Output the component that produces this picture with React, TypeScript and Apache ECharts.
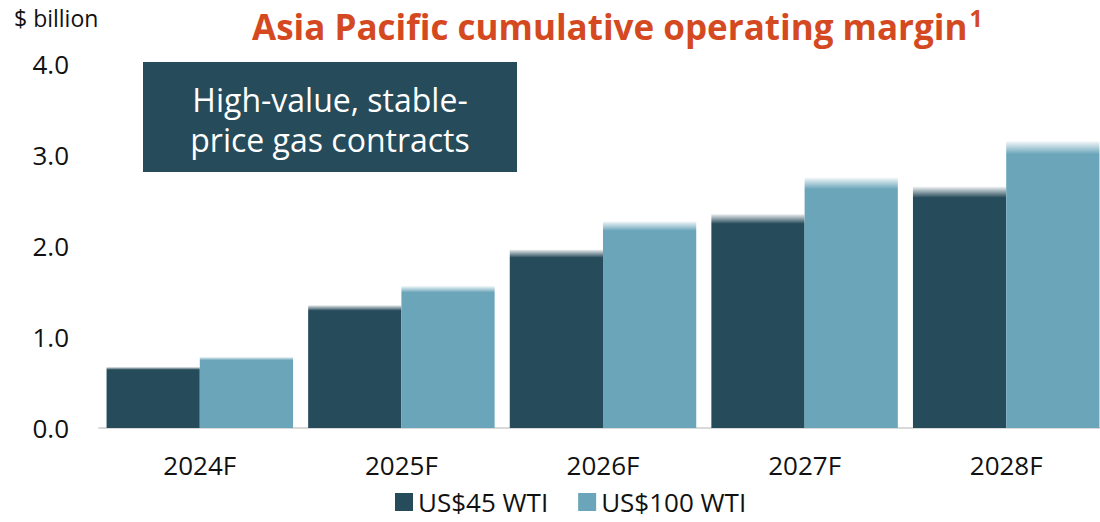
import React, { useEffect, useRef } from "react";
import * as echarts from "echarts";

const categories = ["2024F", "2025F", "2026F", "2027F", "2028F"];
const wti45 = [0.67, 1.35, 1.96, 2.35, 2.65];
const wti100 = [0.78, 1.56, 2.27, 2.75, 3.15];
const seriesNames = ["US$45 WTI", "US$100 WTI"];
const titleText = "Asia Pacific cumulative operating margin";
const unitText = "$ billion";
const boxText = "High-value, stable-\nprice gas contracts";

const DARK = "#264B5A";
const LIGHT = "#6BA5BA";
const FONT = "'Open Sans', sans-serif";

function fade(hex: string, rgb: string) {
  return {
    type: "linear",
    x: 0,
    y: 0,
    x2: 0,
    y2: 1,
    colorStops: [
      { offset: 0, color: `rgba(${rgb},0.08)` },
      { offset: 0.045, color: hex },
      { offset: 1, color: hex },
    ],
  };
}

export default function App() {
  const ref = useRef<HTMLDivElement>(null);
  useEffect(() => {
    if (!ref.current) return;
    const chart = echarts.init(ref.current, undefined, { renderer: "svg" });
    chart.setOption({
      animation: false,
      backgroundColor: "#ffffff",
      textStyle: { fontFamily: FONT },
      grid: { left: 99, top: 64, width: 1008, height: 364, outerBoundsMode: "none" },
      legend: {
        left: 390,
        top: 484,
        itemWidth: 18,
        itemHeight: 18,
        itemGap: 30,
        icon: "rect",
        textStyle: { fontFamily: FONT, fontSize: 26, color: "#111", lineHeight: 26 },
        data: [
          { name: seriesNames[0], itemStyle: { color: DARK } },
          { name: seriesNames[1], itemStyle: { color: LIGHT } },
        ],
      },
      xAxis: {
        type: "category",
        data: categories,
        axisLine: { lineStyle: { color: "#D9D9D9", width: 2 } },
        axisTick: { show: false },
        axisLabel: { fontFamily: FONT, fontSize: 26, color: "#111", margin: 24 },
      },
      yAxis: {
        type: "value",
        min: 0,
        max: 4,
        interval: 1,
        splitLine: { show: false },
        axisLine: { show: false },
        axisTick: { show: false },
        axisLabel: {
          fontFamily: FONT,
          fontSize: 26,
          color: "#111",
          margin: 30,
          formatter: (v: number) => v.toFixed(1),
        },
      },
      series: [
        {
          name: seriesNames[0],
          type: "bar",
          data: wti45,
          barGap: "0%",
          barCategoryGap: "7.5%",
          itemStyle: { color: fade(DARK, "38,75,90") },
        },
        {
          name: seriesNames[1],
          type: "bar",
          data: wti100,
          barGap: "0%",
          barCategoryGap: "7.5%",
          itemStyle: { color: fade(LIGHT, "107,165,186") },
        },
      ],
      graphic: [
        {
          type: "text",
          left: 14,
          top: 6,
          style: { text: unitText, fontFamily: FONT, fontSize: 23, fill: "#111" },
        },
        {
          type: "text",
          x: 252,
          y: 26,
          style: {
            text: `{t|${titleText}}{s|1}`,
            verticalAlign: "middle",
            rich: {
              t: { fontFamily: FONT, fontSize: 35, fontWeight: "bold", fill: "#D4491F", color: "#D4491F" },
              s: {
                fontFamily: FONT,
                fontSize: 23,
                fontWeight: "bold",
                color: "#D4491F",
                fill: "#D4491F",
                verticalAlign: "top",
                padding: [0, 0, 16, 2],
              },
            },
          },
        },
        {
          type: "rect",
          shape: { x: 143, y: 62, width: 374, height: 110 },
          style: { fill: DARK },
        },
        {
          type: "text",
          x: 330,
          y: 119,
          style: {
            text: boxText,
            fontFamily: FONT,
            fontSize: 32,
            lineHeight: 40,
            fill: "#ffffff",
            align: "center",
            verticalAlign: "middle",
          },
        },
      ],
    });
    return () => chart.dispose();
  }, []);
  return (
    <div
      ref={ref}
      style={{ position: "absolute", left: 0, top: 0, width: 1100, height: 522 }}
    />
  );
}
